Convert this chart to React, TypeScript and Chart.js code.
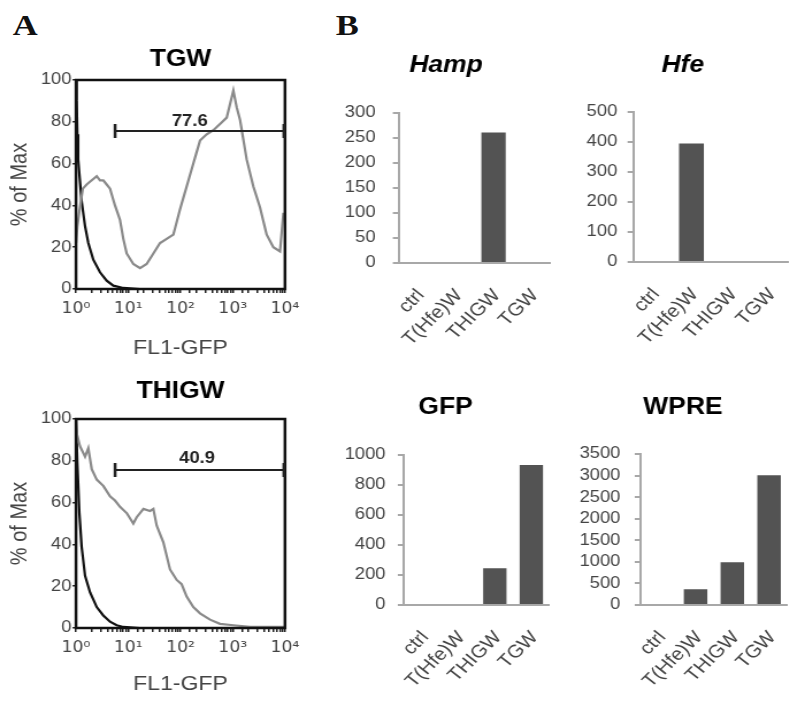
import React, { useEffect, useRef } from 'react';
import { Chart, registerables } from 'chart.js';

Chart.register(...registerables);

// The printed figure is stretched horizontally; everything is laid out
// in unstretched coordinates and the whole figure is scaled by this factor.
const STRETCH = 1.15;
const FONT = "'Liberation Sans', Arial, Helvetica, sans-serif";
Chart.defaults.font.family = FONT;

// ---------------- Panel A: flow cytometry histograms ----------------
const X_TICK_LABELS = ['10⁰', '10¹', '10²', '10³', '10⁴'];
const Y_TITLE_A = '% of Max';
const X_TITLE_A = 'FL1-GFP';

const TGW_GFP_X = [1, 1.06, 1.19, 1.35, 1.6, 2.0, 2.49, 2.88, 3.33, 3.86, 4.48, 5.57, 6.95, 8.05, 9.33, 12.5, 16.8, 22.5, 30.2, 40.6, 54.3, 72.9, 97.7, 131, 176, 236, 317, 425, 570, 766, 1026, 1189, 1377, 1845, 2477, 3327, 4457, 5984, 8017, 9290, 10000];
const TGW_GFP_Y = [22, 30, 39, 48, 50, 52, 54, 52, 52, 50, 48, 40, 33, 24, 17, 12, 10, 12, 17, 22, 24, 26, 38, 49, 60, 71, 74, 76, 79, 82, 95, 87, 81, 62, 49, 39, 26, 20, 18, 36, 36];
const TGW_CTRL_X = [1, 1.03, 1.06, 1.1, 1.16, 1.28, 1.49, 1.72, 2.14, 2.88, 3.86, 5.18, 8.05, 16.6, 10000];
const TGW_CTRL_Y = [100, 90, 74, 62, 55, 42, 30, 22, 14, 8, 4, 1.6, 0.5, 0, 0];
const TGW_GATE_RANGE = [5.6, 10000];
const TGW_GATE_LEVEL = 75.6;
const TGW_GATE_LABEL = '77.6';
const TGW_GATE_LABEL_POS = [150, 80];

const THIGW_GFP_X = [1, 1.06, 1.19, 1.49, 1.72, 2.0, 2.49, 3.33, 4.48, 5.57, 6.95, 9.33, 12.5, 14.5, 19.5, 26.1, 30.2, 35, 46.9, 63, 84.5, 105, 131, 176, 236, 367, 570, 1026, 2138, 10000];
const THIGW_GFP_Y = [88, 92, 87, 82, 86, 76, 71, 68, 63, 61, 58, 55, 50, 53, 57, 56, 57, 49, 41, 28, 23, 21, 15, 10, 7, 4, 2, 1.3, 0.5, 0.5];
const THIGW_CTRL_X = [1, 1.06, 1.16, 1.28, 1.49, 1.86, 2.49, 3.33, 4.48, 6.0, 8.05, 16.6, 10000];
const THIGW_CTRL_Y = [100, 79, 55, 39, 25, 17, 10, 6, 3, 1.3, 0.5, 0, 0];
const THIGW_GATE_RANGE = [5.6, 10000];
const THIGW_GATE_LEVEL = 75.6;
const THIGW_GATE_LABEL = '40.9';
const THIGW_GATE_LABEL_POS = [207, 81];

// ---------------- Panel B: expression bar charts ----------------
const CATEGORIES = ['ctrl', 'T(Hfe)W', 'THIGW', 'TGW'];
const HAMP_VALUES = [0, 0, 260, 0];
const HFE_VALUES = [0, 395, 0, 0];
const GFP_VALUES = [0, 0, 245, 933];
const WPRE_VALUES = [0, 364, 990, 3010];
const HAMP_AXIS = [300, 50];
const HFE_AXIS = [500, 100];
const GFP_AXIS = [1000, 200];
const WPRE_AXIS = [3500, 500];

// ---------------- layout (page pixels) ----------------
const TITLE_SIZE = 23;
const TITLE_LH = TITLE_SIZE * 1.2;

function frameOf(f: any) {
  const w = Math.round((f.right - f.left) / STRETCH);
  return {
    x: f.left / STRETCH,
    y: f.top,
    w,
    h: f.bottom - f.top,
    yAxisW: (f.ca.l - f.left) / STRETCH,
    padR: w - (f.ca.r - f.left) / STRETCH,
    headH: f.ca.t - f.top,
    xAxisH: f.bottom - f.ca.b,
    titleCy: f.titleCy,
  };
}

const FR_TGW = frameOf({ left: 0, right: 301, top: 28, bottom: 370, ca: { l: 76, r: 285, t: 80, b: 289 }, titleCy: 60 });
const FR_THIGW = frameOf({ left: 0, right: 301, top: 365, bottom: 700, ca: { l: 76, r: 285, t: 419, b: 628 }, titleCy: 392 });
const FR_HAMP = frameOf({ left: 341, right: 555, top: 30, bottom: 360, ca: { l: 398, r: 550, t: 112.5, b: 263 }, titleCy: 66 });
const FR_HFE = frameOf({ left: 577, right: 793, top: 30, bottom: 360, ca: { l: 633, r: 788, t: 112, b: 262 }, titleCy: 66 });
const FR_GFP = frameOf({ left: 342, right: 555, top: 370, bottom: 700, ca: { l: 404, r: 550, t: 455, b: 605 }, titleCy: 407.5 });
const FR_WPRE = frameOf({ left: 578, right: 793, top: 370, bottom: 700, ca: { l: 640, r: 787, t: 454, b: 605 }, titleCy: 407.5 });

function titleOpts(fr: any, text: string, italic: boolean, fullSize: boolean) {
  const top = fr.titleCy - fr.y - TITLE_LH / 2;
  return {
    display: true,
    text,
    fullSize,
    color: '#000',
    font: { family: FONT, size: TITLE_SIZE, weight: 'bold', style: italic ? 'italic' : 'normal', lineHeight: 1.2 },
    padding: { top, bottom: fr.headH - top - TITLE_LH },
  };
}

function fixSize(prop: 'width' | 'height', size: number) {
  return (s: any) => {
    s[prop] = size;
    s.paddingLeft = 0;
    s.paddingRight = 0;
    s.paddingTop = 0;
    s.paddingBottom = 0;
  };
}

const framePlugin = {
  id: 'frame',
  afterDatasetsDraw(chart: any) {
    const { ctx, chartArea: a } = chart;
    ctx.save();
    ctx.strokeStyle = '#111';
    ctx.lineWidth = 2.5;
    ctx.strokeRect(a.left, a.top, a.right - a.left, a.bottom - a.top);
    ctx.restore();
  },
};

const gatePlugin = {
  id: 'gate',
  afterDatasetsDraw(chart: any, _args: any, opts: any) {
    if (!opts || !opts.label) return;
    const { ctx } = chart;
    const xs = chart.scales.x;
    const ys = chart.scales.y;
    const x0 = xs.getPixelForValue(opts.range[0]);
    const x1 = xs.getPixelForValue(opts.range[1]) - 1;
    const y = ys.getPixelForValue(opts.level);
    ctx.save();
    ctx.strokeStyle = '#222';
    ctx.lineWidth = 2.2;
    ctx.beginPath();
    ctx.moveTo(x0, y);
    ctx.lineTo(x1, y);
    ctx.stroke();
    ctx.lineWidth = 2.5;
    ctx.beginPath();
    ctx.moveTo(x0, y - 7);
    ctx.lineTo(x0, y + 7);
    ctx.moveTo(x1, y - 7);
    ctx.lineTo(x1, y + 7);
    ctx.stroke();
    ctx.fillStyle = '#222';
    ctx.font = `bold 16px ${FONT}`;
    ctx.textAlign = 'center';
    ctx.textBaseline = 'middle';
    ctx.fillText(opts.label, xs.getPixelForValue(opts.labelPos[0]), ys.getPixelForValue(opts.labelPos[1]));
    ctx.restore();
  },
};

function pts(xs: number[], ys: number[]) {
  return xs.map((x, i) => ({ x, y: ys[i] }));
}

function histConfig(fr: any, title: string, gfp: any[], ctrl: any[], gate: any, xTitlePadBottom: number) {
  return {
    type: 'scatter',
    data: {
      datasets: [
        { data: gfp, showLine: true, borderColor: '#8a8a8a', borderWidth: 2.2, pointRadius: 0, fill: false },
        { data: ctrl, showLine: true, borderColor: '#111', borderWidth: 2.2, pointRadius: 0, fill: false },
      ],
    },
    options: {
      responsive: false,
      animation: false,
      events: [],
      layout: { padding: { left: 0, top: 0, bottom: 0, right: fr.padR } },
      plugins: {
        legend: { display: false },
        tooltip: { enabled: false },
        title: titleOpts(fr, title, false, false),
        gate,
      },
      scales: {
        x: {
          type: 'logarithmic',
          min: 1,
          max: 10000,
          afterFit: fixSize('height', fr.xAxisH),
          grid: { drawOnChartArea: false, drawTicks: true, tickLength: 4, color: '#222', lineWidth: 1.5 },
          border: { display: false },
          ticks: {
            autoSkip: false,
            maxRotation: 0,
            minRotation: 0,
            padding: 7,
            color: '#444',
            font: { family: "'DejaVu Sans', sans-serif", size: 15 },
            callback: (v: any) => {
              const e = Math.log10(Number(v));
              const r = Math.round(e);
              return Math.abs(e - r) < 1e-6 ? X_TICK_LABELS[r] : '';
            },
          },
          title: { display: true, text: X_TITLE_A, color: '#444', font: { size: 20, lineHeight: 1.2 }, padding: { top: 0, bottom: xTitlePadBottom } },
        },
        y: {
          min: 0,
          max: 100,
          afterFit: fixSize('width', fr.yAxisW),
          grid: { drawOnChartArea: false, drawTicks: true, tickLength: 3, color: '#222', lineWidth: 1.5 },
          border: { display: false },
          ticks: { stepSize: 20, padding: 1, color: '#444', font: { size: 16 } },
          title: { display: true, text: Y_TITLE_A, color: '#444', font: { size: 20, lineHeight: 1.2 }, padding: { top: 5.4, bottom: 0 } },
        },
      },
    },
    plugins: [framePlugin, gatePlugin],
  };
}

const AXIS_GRAY = '#a8a8a8';
const BAR_COLOR = '#535353';

function barConfig(fr: any, title: string, italic: boolean, values: number[], axis: number[], gapPx: number) {
  return {
    type: 'bar',
    data: {
      labels: CATEGORIES,
      datasets: [{ data: values, backgroundColor: BAR_COLOR, barPercentage: 0.64, categoryPercentage: 1 }],
    },
    options: {
      responsive: false,
      animation: false,
      events: [],
      layout: { padding: { left: 0, top: 0, bottom: 0, right: fr.padR } },
      plugins: {
        legend: { display: false },
        tooltip: { enabled: false },
        title: titleOpts(fr, title, italic, true),
      },
      scales: {
        x: {
          afterFit: fixSize('height', fr.xAxisH),
          grid: { display: true, drawOnChartArea: false, drawTicks: false },
          border: { display: true, color: AXIS_GRAY, width: 2 },
          ticks: { autoSkip: false, minRotation: 48, maxRotation: 48, padding: 22, labelOffset: 3, color: '#444', font: { size: 18 } },
        },
        y: {
          min: 0,
          max: axis[0],
          afterFit: fixSize('width', fr.yAxisW),
          grid: { drawOnChartArea: false, drawTicks: true, tickLength: 5, color: AXIS_GRAY, lineWidth: 2 },
          border: { display: true, color: AXIS_GRAY, width: 2 },
          ticks: {
            stepSize: axis[1],
            autoSkip: false,
            padding: gapPx / STRETCH - 5,
            color: '#444',
            font: { size: 16 },
            callback: (v: any) => String(v),
          },
        },
      },
    },
  };
}

function ChartBox({ fr, config }: { fr: any; config: any }) {
  const ref = useRef<HTMLCanvasElement>(null);
  useEffect(() => {
    const chart = new Chart(ref.current as HTMLCanvasElement, config);
    return () => chart.destroy();
  }, []);
  return (
    <canvas
      ref={ref}
      width={fr.w}
      height={fr.h}
      style={{ position: 'absolute', left: fr.x, top: fr.y, display: 'block' }}
    />
  );
}

const panelLetter: React.CSSProperties = {
  position: 'absolute',
  top: 10,
  margin: 0,
  fontFamily: "'Liberation Serif', 'Times New Roman', serif",
  fontWeight: 'bold',
  fontSize: 30,
  lineHeight: '30px',
  color: '#111',
};

export default function App() {
  return (
    <div
      style={{
        position: 'absolute',
        left: 0,
        top: 0,
        width: 800 / STRETCH,
        height: 704,
        background: '#fff',
        transform: `scaleX(${STRETCH})`,
        transformOrigin: '0 0',
        overflow: 'hidden',
      }}
    >
      <div style={{ ...panelLetter, left: 11 }}>A</div>
      <div style={{ ...panelLetter, left: 292 }}>B</div>
      <ChartBox
        fr={FR_TGW}
        config={histConfig(FR_TGW, 'TGW', pts(TGW_GFP_X, TGW_GFP_Y), pts(TGW_CTRL_X, TGW_CTRL_Y), {
          range: TGW_GATE_RANGE, level: TGW_GATE_LEVEL, label: TGW_GATE_LABEL, labelPos: TGW_GATE_LABEL_POS,
        }, 10)}
      />
      <ChartBox
        fr={FR_THIGW}
        config={histConfig(FR_THIGW, 'THIGW', pts(THIGW_GFP_X, THIGW_GFP_Y), pts(THIGW_CTRL_X, THIGW_CTRL_Y), {
          range: THIGW_GATE_RANGE, level: THIGW_GATE_LEVEL, label: THIGW_GATE_LABEL, labelPos: THIGW_GATE_LABEL_POS,
        }, 4)}
      />
      <ChartBox fr={FR_HAMP} config={barConfig(FR_HAMP, 'Hamp', true, HAMP_VALUES, HAMP_AXIS, 23)} />
      <ChartBox fr={FR_HFE} config={barConfig(FR_HFE, 'Hfe', true, HFE_VALUES, HFE_AXIS, 16)} />
      <ChartBox fr={FR_GFP} config={barConfig(FR_GFP, 'GFP', false, GFP_VALUES, GFP_AXIS, 18)} />
      <ChartBox fr={FR_WPRE} config={barConfig(FR_WPRE, 'WPRE', false, WPRE_VALUES, WPRE_AXIS, 20)} />
    </div>
  );
}
